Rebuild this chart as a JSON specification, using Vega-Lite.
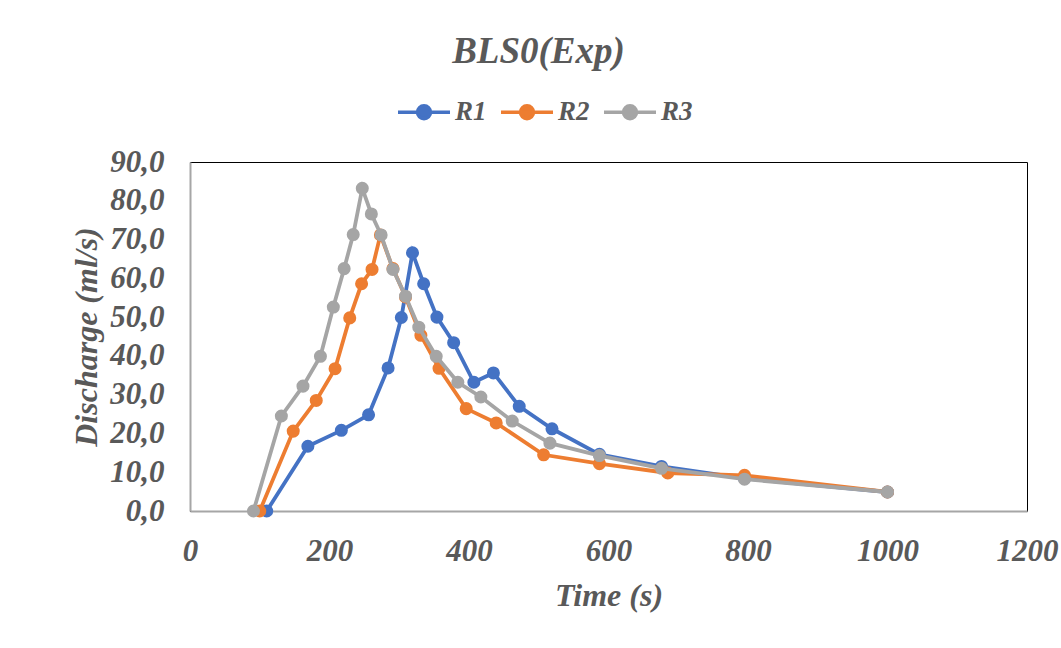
{
  "$schema": "https://vega.github.io/schema/vega-lite/v6.json",
  "width": 837,
  "height": 349,
  "autosize": {"type": "none"},
  "padding": {"left": 190, "top": 162, "right": 34, "bottom": 137},
  "background": "white",
  "title": {
    "text": "BLS0(Exp)",
    "font": "Liberation Serif",
    "fontSize": 37,
    "fontWeight": "bold",
    "fontStyle": "italic",
    "color": "#595959",
    "anchor": "middle",
    "dx": -70,
    "offset": 13
  },
  "config": {
    "view": {"stroke": "#000000", "strokeWidth": 1},
    "axis": {
      "labelFont": "Liberation Serif",
      "labelFontSize": 31,
      "labelFontWeight": "bold",
      "labelFontStyle": "italic",
      "labelColor": "#595959",
      "titleFont": "Liberation Serif",
      "titleFontSize": 32,
      "titleFontWeight": "bold",
      "titleFontStyle": "italic",
      "titleColor": "#595959",
      "grid": false,
      "ticks": false,
      "domainColor": "#A6A6A6",
      "domainWidth": 2
    }
  },
  "data": {
    "values": [
      {"series": "R1", "time": 110, "q": 0},
      {"series": "R1", "time": 169, "q": 16.7},
      {"series": "R1", "time": 217, "q": 20.8},
      {"series": "R1", "time": 256, "q": 24.8},
      {"series": "R1", "time": 284, "q": 36.9},
      {"series": "R1", "time": 303, "q": 49.9},
      {"series": "R1", "time": 319, "q": 66.6},
      {"series": "R1", "time": 335, "q": 58.6},
      {"series": "R1", "time": 354, "q": 50.0},
      {"series": "R1", "time": 378, "q": 43.4},
      {"series": "R1", "time": 407, "q": 33.2},
      {"series": "R1", "time": 435, "q": 35.6},
      {"series": "R1", "time": 472, "q": 27.0},
      {"series": "R1", "time": 519, "q": 21.2},
      {"series": "R1", "time": 587, "q": 14.6},
      {"series": "R1", "time": 676, "q": 11.5},
      {"series": "R1", "time": 795, "q": 8.4},
      {"series": "R1", "time": 1000, "q": 4.9},
      {"series": "R2", "time": 100, "q": 0},
      {"series": "R2", "time": 148, "q": 20.6},
      {"series": "R2", "time": 181, "q": 28.5},
      {"series": "R2", "time": 208, "q": 36.7},
      {"series": "R2", "time": 229, "q": 49.8},
      {"series": "R2", "time": 246, "q": 58.6},
      {"series": "R2", "time": 261, "q": 62.3},
      {"series": "R2", "time": 273, "q": 71.2},
      {"series": "R2", "time": 291, "q": 62.5},
      {"series": "R2", "time": 309, "q": 55.2},
      {"series": "R2", "time": 331, "q": 45.3},
      {"series": "R2", "time": 357, "q": 36.8},
      {"series": "R2", "time": 396, "q": 26.4},
      {"series": "R2", "time": 439, "q": 22.7},
      {"series": "R2", "time": 507, "q": 14.5},
      {"series": "R2", "time": 587, "q": 12.2},
      {"series": "R2", "time": 685, "q": 9.8},
      {"series": "R2", "time": 795, "q": 9.2},
      {"series": "R2", "time": 1000, "q": 4.9},
      {"series": "R3", "time": 91, "q": 0},
      {"series": "R3", "time": 131, "q": 24.5},
      {"series": "R3", "time": 162, "q": 32.2},
      {"series": "R3", "time": 187, "q": 39.9},
      {"series": "R3", "time": 205.5, "q": 52.6},
      {"series": "R3", "time": 221, "q": 62.5},
      {"series": "R3", "time": 234, "q": 71.3},
      {"series": "R3", "time": 247, "q": 83.2},
      {"series": "R3", "time": 260, "q": 76.6},
      {"series": "R3", "time": 274, "q": 71.2},
      {"series": "R3", "time": 291, "q": 62.3},
      {"series": "R3", "time": 309, "q": 55.4},
      {"series": "R3", "time": 328, "q": 47.4},
      {"series": "R3", "time": 353, "q": 39.9},
      {"series": "R3", "time": 384, "q": 33.2},
      {"series": "R3", "time": 417, "q": 29.4},
      {"series": "R3", "time": 462, "q": 23.2},
      {"series": "R3", "time": 516, "q": 17.5},
      {"series": "R3", "time": 587, "q": 14.3},
      {"series": "R3", "time": 676, "q": 11.0},
      {"series": "R3", "time": 795, "q": 8.2},
      {"series": "R3", "time": 1000, "q": 4.9}
    ]
  },
  "encoding": {
    "x": {
      "field": "time",
      "type": "quantitative",
      "title": "Time (s)",
      "scale": {"domain": [0, 1200], "nice": false},
      "axis": {"values": [0, 200, 400, 600, 800, 1000, 1200], "format": "d", "labelPadding": 25, "titlePadding": 14, "labelFlush": false}
    },
    "y": {
      "field": "q",
      "type": "quantitative",
      "title": "Discharge (ml/s)",
      "scale": {"domain": [0, 90], "nice": false},
      "axis": {
        "values": [0, 10, 20, 30, 40, 50, 60, 70, 80, 90],
        "labelExpr": "replace(format(datum.value, '.1f'), '.', ',')",
        "labelPadding": 26,
        "titlePadding": 6,
        "labelFlush": false
      }
    },
    "color": {
      "field": "series",
      "type": "nominal",
      "scale": {"domain": ["R1", "R2", "R3"], "range": ["#4472C4", "#ED7D31", "#A5A5A5"]},
      "legend": {
        "title": null,
        "orient": "none",
        "direction": "horizontal",
        "legendX": 206,
        "legendY": -78,
        "symbolType": "M-1,0H1M-0.25,0A0.25,0.25 0 1,1 0.25,0A0.25,0.25 0 1,1 -0.25,0Z",
        "symbolSize": 2704,
        "symbolStrokeWidth": 3.5,
        "labelFont": "Liberation Serif",
        "labelFontSize": 27,
        "labelFontWeight": "bold",
        "labelFontStyle": "italic",
        "labelColor": "#595959",
        "labelOffset": 3,
        "columnPadding": 7,
        "encode": {
          "symbols": {
            "update": {
              "fill": {"scale": "color", "field": "value"},
              "stroke": {"scale": "color", "field": "value"}
            }
          }
        }
      }
    }
  },
  "layer": [
    {
      "transform": [{"filter": "datum.series === 'R1'"}],
      "mark": {"type": "line", "strokeWidth": 3.8, "point": {"filled": true, "size": 170, "opacity": 1}}
    },
    {
      "transform": [{"filter": "datum.series === 'R2'"}],
      "mark": {"type": "line", "strokeWidth": 3.8, "point": {"filled": true, "size": 170, "opacity": 1}}
    },
    {
      "transform": [{"filter": "datum.series === 'R3'"}],
      "mark": {"type": "line", "strokeWidth": 3.8, "point": {"filled": true, "size": 170, "opacity": 1}}
    }
  ]
}
